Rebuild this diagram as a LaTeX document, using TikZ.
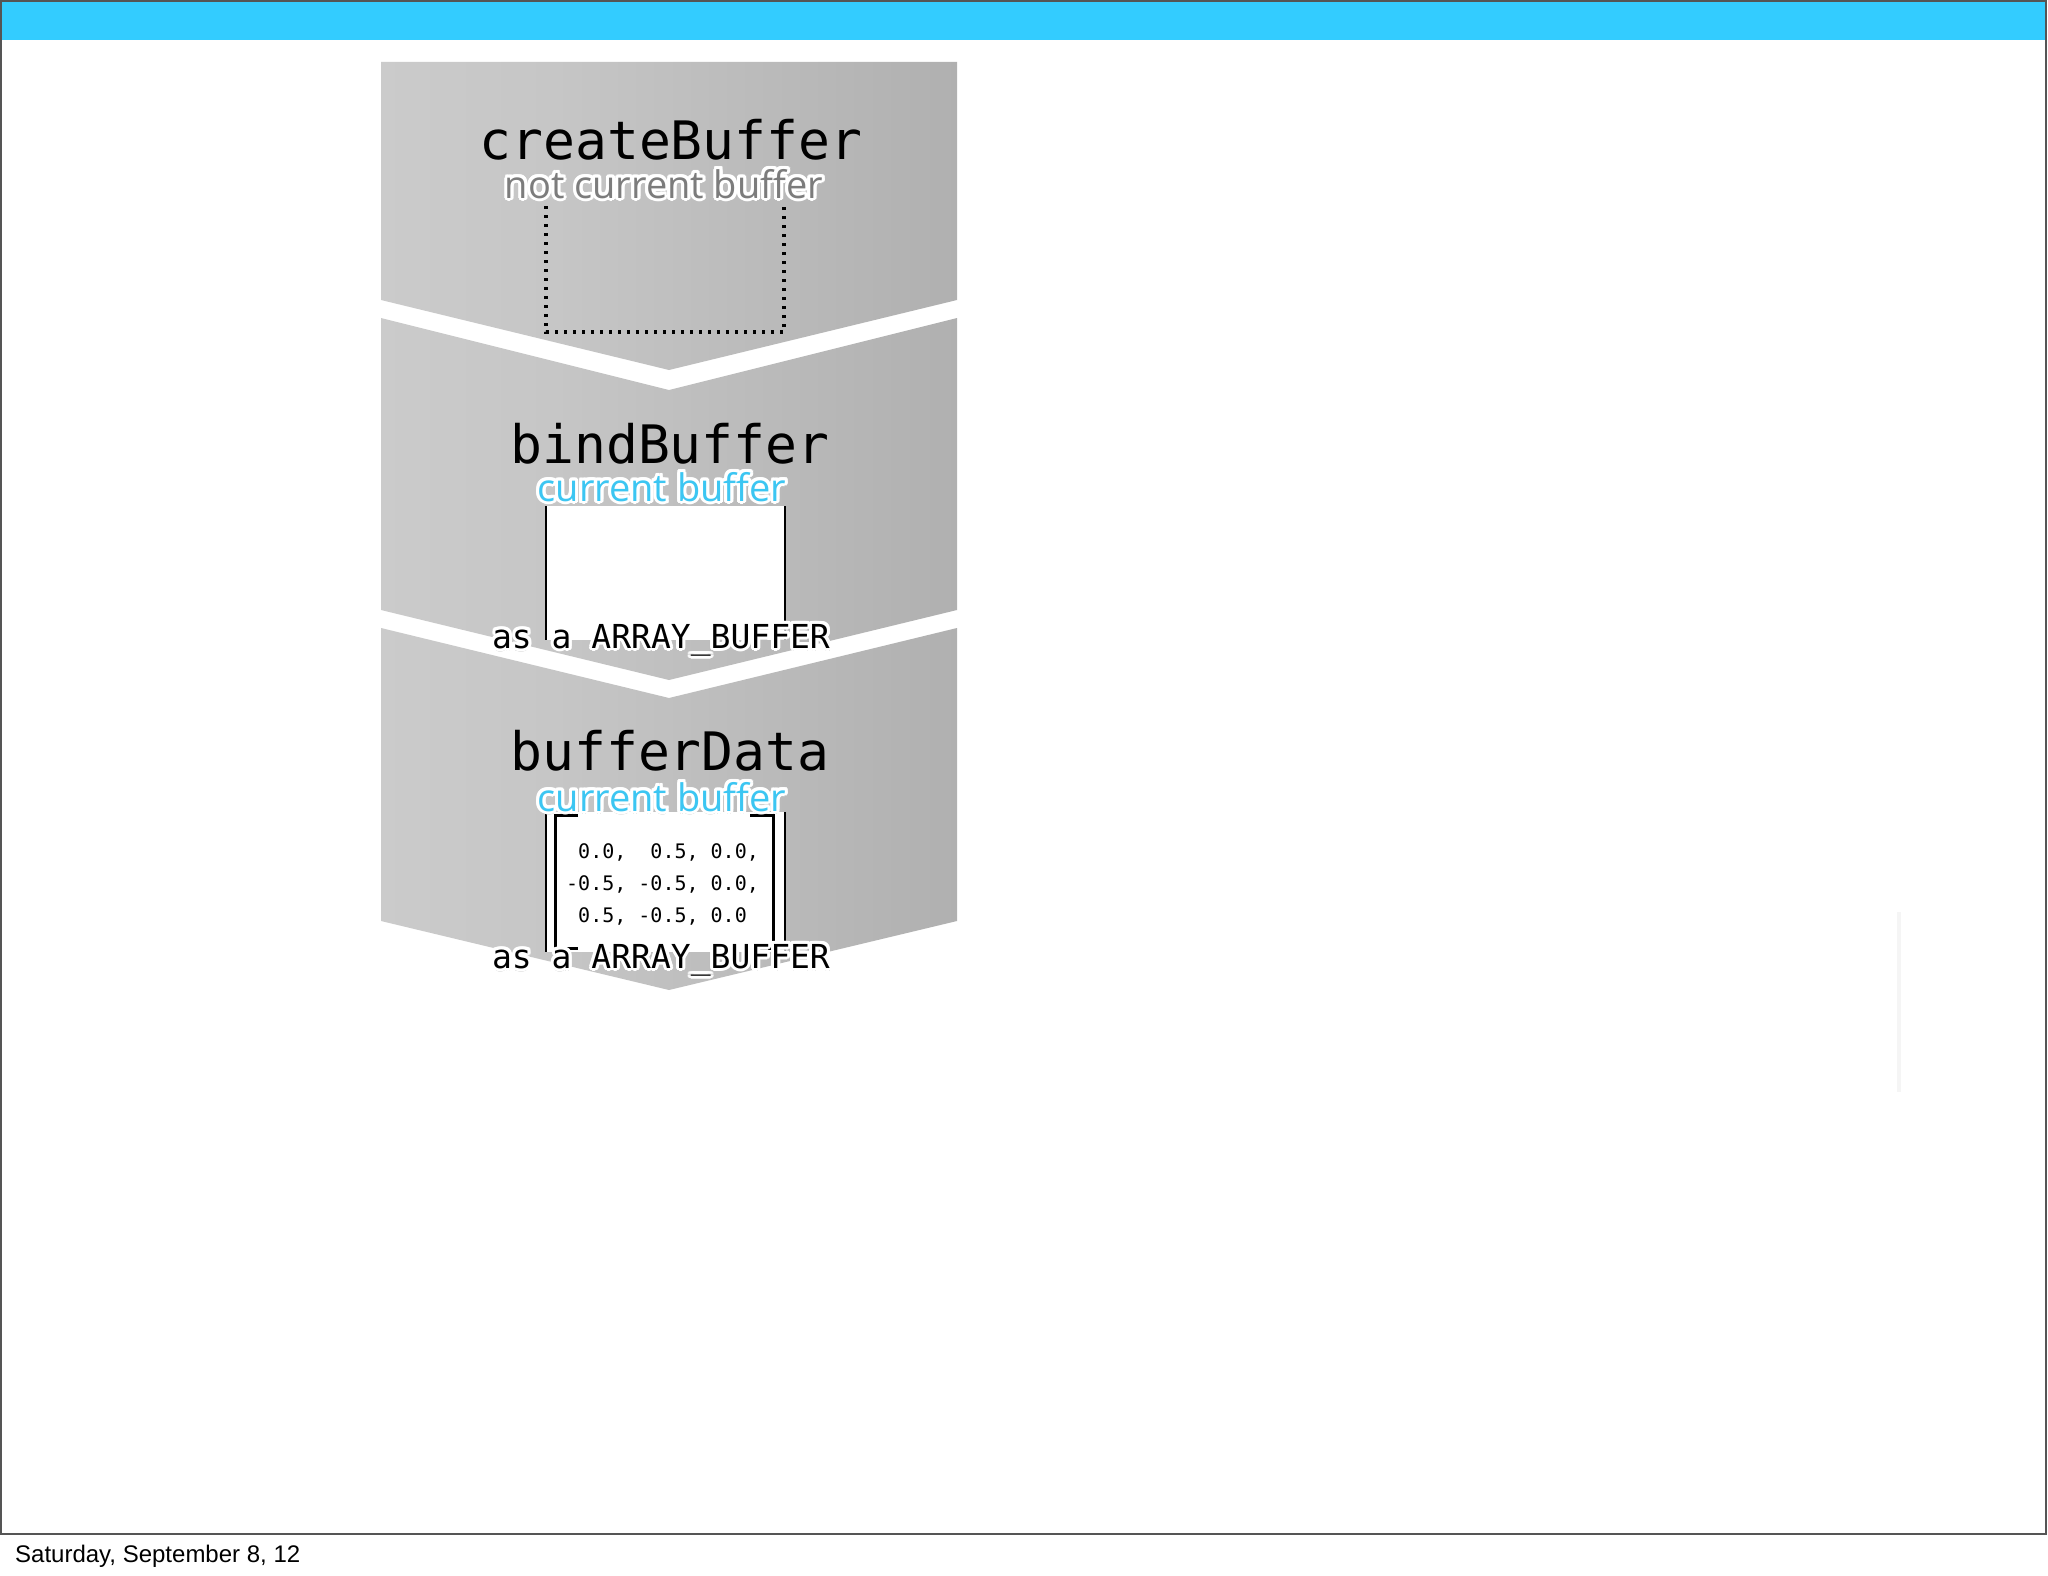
\documentclass[tikz,border=0pt]{standalone}
\usepackage{fontspec}
\setmainfont{Liberation Sans}
\newfontfamily\codefont{DejaVu Sans Mono}
\newfontfamily\notefont{Open Sans}
\definecolor{barCyan}{HTML}{33CCFF}
\definecolor{curBlue}{HTML}{3CC6F2}
\definecolor{noteGrey}{HTML}{7C7C7C}
\definecolor{frameGrey}{HTML}{555555}
\definecolor{haloShadow}{HTML}{A8A8A8}
\definecolor{pnlA}{HTML}{D3D3D3}
\definecolor{pnlB}{HTML}{C6C6C6}
\definecolor{pnlC}{HTML}{B3B3B3}
\definecolor{pnlD}{HTML}{A2A2A2}
\pgfdeclarehorizontalshading{panelshade}{100bp}{color(0bp)=(pnlA); color(40bp)=(pnlB); color(70bp)=(pnlC); color(100bp)=(pnlD)}
% text with a white glow and a soft shadow
\newcommand{\halo}[2]{\leavevmode
  \rlap{\raisebox{-3.5pt}{\textcolor{haloShadow}{#2}}}%
  \foreach \hx/\hy in {3/0,-3/0,0/3,0/-3,2.1/2.1,-2.1/2.1,2.1/-2.1,-2.1/-2.1,1.2/2.8,-1.2/2.8,1.2/-2.8,-1.2/-2.8,2.8/1.2,-2.8/1.2,2.8/-1.2,-2.8/-1.2}{%
    \rlap{\kern\hx pt\raisebox{\hy pt}{\textcolor{white}{#2}}}}%
  \textcolor{#1}{#2}}

\begin{document}
\begin{tikzpicture}[
    x=1pt, y=-1pt,
    panel/.style={shading=panelshade},
    title/.style={anchor=base, inner sep=0pt, font=\codefont\fontsize{53}{60}\selectfont},
    note/.style={anchor=base, inner sep=0pt, font=\notefont\fontsize{38}{44}\selectfont},
    target/.style={anchor=base, inner sep=0pt, font=\codefont\fontsize{33}{40}\selectfont},
    vals/.style={anchor=base west, inner sep=0pt, font=\codefont\fontsize{20}{24}\selectfont},
    side/.style={line width=1.4pt, black},
    bracket/.style={line width=3pt, black}
]
\useasboundingbox (0,0) rectangle (2048,1576);
\fill[white] (0,0) rectangle (2048,1576);

% -- slide frame and top bar
\fill[barCyan] (1,1) rectangle (2046,40);
\draw[frameGrey, line width=2pt] (1,1) rectangle (2046,1534);
\draw[black!4, line width=4pt] (1899,912) -- (1899,1092);

% -- the three chevron panels
\shade[panel] (381,62) -- (957,62) -- (957,300) -- (669,370) -- (381,300) -- cycle;
\shade[panel] (381,318) -- (669,390) -- (957,318) -- (957,610) -- (669,680) -- (381,610) -- cycle;
\shade[panel] (381,628) -- (669,698) -- (957,628) -- (957,921) -- (669,990) -- (381,921) -- cycle;

% -- buffers
\draw[line width=3.4pt, dash pattern=on 3.4pt off 5.6pt] (546,206) -- (546,332) -- (784,332) -- (784,206);
\fill[white] (546,506) rectangle (785,640);
\draw[side] (546,506) -- (546,640);
\draw[side] (785,506) -- (785,640);
\fill[white] (546,812) rectangle (785,952);
\draw[side] (546,812) -- (546,952);
\draw[side] (785,812) -- (785,952);
\draw[bracket] (578,815) -- (555,815) -- (555,948) -- (578,948);
\draw[bracket] (750,815) -- (773,815) -- (773,948) -- (750,948);

% -- step 1
\node[title] (tCreate) at (671,160) {createBuffer};
\node[note] (sCreate) at (664,198) {\halo{noteGrey}{not current buffer}};

% -- step 2
\node[title] (tBind) at (670,463) {bindBuffer};
\node[note] (sBind) at (662,501) {\halo{curBlue}{current buffer}};
\node[target] (aBind) at (661,648) {\halo{black}{as a ARRAY\_BUFFER}};

% -- step 3
\node[title] (tData) at (670,770) {bufferData};
\node[note] (sData) at (662,811) {\halo{curBlue}{current buffer}};
\node[vals] (row1) at (566,858) {\phantom{-}0.0,\ \ 0.5,\ 0.0,};
\node[vals] (row2) at (566,890) {-0.5,\ -0.5,\ 0.0,};
\node[vals] (row3) at (566,922) {\phantom{-}0.5,\ -0.5,\ 0.0};
\node[target] (aData) at (661,968) {\halo{black}{as a ARRAY\_BUFFER}};

% -- footer
\node[anchor=base west, inner sep=0pt, font=\fontsize{24}{28}\selectfont] (date) at (15,1562) {Saturday, September 8, 12};
\end{tikzpicture}
\end{document}
